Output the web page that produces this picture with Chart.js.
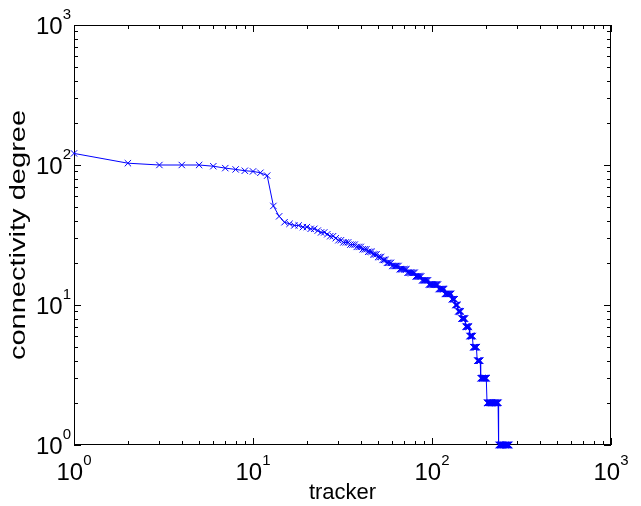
<!DOCTYPE html>
<html>
<head>
<meta charset="utf-8">
<script src="https://cdn.jsdelivr.net/npm/chart.js@4"></script>
<style>
  body { margin: 0; background: #fff; }
  canvas { display: block; }
</style>
</head>
<body>
<canvas id="chart" width="641" height="506"></canvas>
<script>
// degree of the first 34 trackers, one value per rank
const topDegrees = [121, 103, 100, 100, 100, 98, 95, 93, 91, 90, 88, 84,
  51, 43, 39, 38, 37, 37, 36, 36, 35, 35, 34, 33, 33, 32, 31, 31, 30, 29, 29, 28, 28, 28];

// the tail: each degree and how many trackers share it (ranks 35 .. 270)
const tailDegrees = [27, 26, 25, 24, 23, 22, 21, 20, 19, 18, 17, 16, 15, 14, 13, 12, 11, 10, 9, 8, 7, 6, 5, 4, 3, 2, 1];
const tailCounts  = [ 3,  3,  3,  3,  3,  3,  3,  4,  6,  7,  8,  7,  8, 13,  9, 11,  6,  5, 6, 8, 8, 8, 9, 8, 16, 33, 35];

const decadeExponents = [0, 1, 2, 3];
const xTitle = "tracker";
const yTitle = "connectivity degree";

// build rank / degree points
const points = [];
topDegrees.forEach((d, i) => points.push({ x: i + 1, y: d }));
tailDegrees.forEach((d, i) => {
  for (let k = 0; k < tailCounts[i]; k++) {
    points.push({ x: points.length + 1, y: d });
  }
});

// matlab style box, inward ticks and 10^n labels
const matlabAxes = {
  id: "matlabAxes",
  beforeDatasetsDraw(chart) {
    const { ctx, chartArea: a, scales } = chart;
    ctx.save();
    ctx.strokeStyle = "#000";
    ctx.lineWidth = 1;
    ctx.strokeRect(a.left + 0.5, a.top + 0.5, a.right - a.left - 1, a.bottom - a.top - 1);

    ctx.beginPath();
    decadeExponents.forEach(e => {
      for (let m = 1; m <= 9; m++) {
        const v = m * Math.pow(10, e);
        if (v > 1000) break;
        const len = m === 1 ? 7 : 4;
        const px = Math.round(scales.x.getPixelForValue(v)) + 0.5;
        ctx.moveTo(px, a.bottom); ctx.lineTo(px, a.bottom - len);
        ctx.moveTo(px, a.top); ctx.lineTo(px, a.top + len);
        const py = Math.round(scales.y.getPixelForValue(v)) + 0.5;
        ctx.moveTo(a.left, py); ctx.lineTo(a.left + len, py);
        ctx.moveTo(a.right, py); ctx.lineTo(a.right - len, py);
      }
    });
    ctx.stroke();
    ctx.restore();
  },
  afterDraw(chart) {
    const { ctx, chartArea: a, scales } = chart;
    const baseFont = "24px 'Liberation Sans', Arial, sans-serif";
    const expFont = "15px 'Liberation Sans', Arial, sans-serif";
    ctx.save();
    ctx.fillStyle = "#000";
    ctx.textBaseline = "alphabetic";

    decadeExponents.forEach(e => {
      const v = Math.pow(10, e);
      ctx.font = baseFont;
      const bw = ctx.measureText("10").width;
      ctx.font = expFont;
      const ew = ctx.measureText(String(e)).width;

      // x axis label, whole string centred on tick
      const px = scales.x.getPixelForValue(v);
      const x0 = px - (bw + ew) / 2;
      ctx.textAlign = "left";
      ctx.font = baseFont;
      ctx.fillText("10", x0, a.bottom + 35);
      ctx.font = expFont;
      ctx.fillText(String(e), x0 + bw, a.bottom + 20);

      // y axis label, right of it touches the axis
      const py = scales.y.getPixelForValue(v);
      const yx = a.left - 3 - ew - bw;
      ctx.font = baseFont;
      ctx.fillText("10", yx, py + 9);
      ctx.font = expFont;
      ctx.fillText(String(e), yx + bw, py - 6);
    });

    ctx.font = "22px 'Liberation Sans', Arial, sans-serif";
    ctx.textAlign = "center";
    ctx.fillText(xTitle, (a.left + a.right) / 2, 499);

    // reference is stretched along its vertical axis, so is the y title
    ctx.translate(25, (a.top + a.bottom) / 2);
    ctx.rotate(-Math.PI / 2);
    ctx.scale(1.32, 1);
    ctx.fillText(yTitle, 0, 0);
    ctx.restore();
  }
};

new Chart(document.getElementById("chart"), {
  type: "scatter",
  data: {
    datasets: [{
      data: points,
      showLine: true,
      borderColor: "#0000ff",
      borderWidth: 1,
      pointStyle: "crossRot",
      pointRadius: 4.5,
      pointBorderColor: "#0000ff",
      pointBorderWidth: 1,
      tension: 0,
      clip: false
    }]
  },
  options: {
    responsive: false,
    animation: false,
    layout: { padding: { left: 74, right: 30, top: 25, bottom: 61 } },
    plugins: { legend: { display: false }, tooltip: { enabled: false } },
    scales: {
      x: { type: "logarithmic", min: 1, max: 1000, display: false },
      y: { type: "logarithmic", min: 1, max: 1000, display: false }
    }
  },
  plugins: [matlabAxes]
});
</script>
</body>
</html>
